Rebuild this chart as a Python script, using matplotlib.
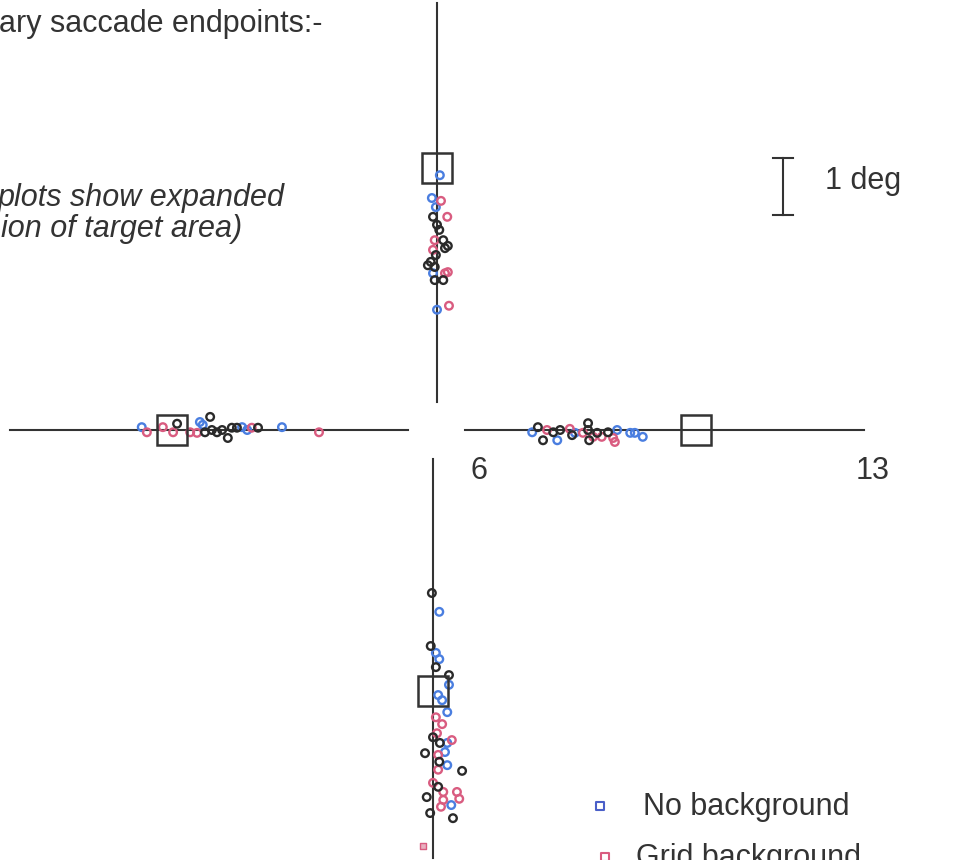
import matplotlib
matplotlib.use('Agg')
import matplotlib.pyplot as plt
from matplotlib.patches import Rectangle

# page layout: pixels per degree, centre of the cross (pixels)
W, H = 979, 860
PX_PER_DEG = 57.0
CX, CY = 437, 430
ARM_START = 5.5      # eccentricity that sits at the centre of the cross
BOTTOM_SHIFT = -0.07  # lower arm is drawn a little left of the upper one

COLOURS = {'none': '#4a7ee0', 'grid': '#d95c80', 'other': '#2a2a2a'}

# endpoints: eccentricity along the arm (deg) and offset across it (deg)
top_ecc = [9.97, 9.57, 9.52, 9.41, 9.24, 9.24, 9.10, 9.01, 8.83, 8.83, 8.73, 8.69,
           8.66, 8.57, 8.45, 8.39, 8.36, 8.25, 8.25, 8.13, 8.13, 8.27, 7.61, 7.68]
top_off = [0.05, -0.09, 0.07, -0.02, -0.07, 0.18, 0.00, 0.04, -0.04, 0.11, 0.19, 0.14,
           -0.07, -0.02, -0.11, -0.16, -0.04, -0.07, 0.14, -0.04, 0.11, 0.19, 0.00, 0.21]
top_cond = ['none', 'none', 'grid', 'none', 'other', 'grid', 'other', 'other', 'grid',
            'other', 'other', 'other', 'grid', 'other', 'other', 'other', 'other', 'none',
            'grid', 'other', 'other', 'grid', 'none', 'grid']

left_ecc = [10.68, 10.59, 10.31, 10.13, 10.06, 9.83, 9.66, 9.61, 9.48, 9.57, 9.45, 9.36,
            9.27, 9.71, 9.17, 9.10, 9.01, 8.92, 8.83, 8.75, 8.64, 8.22, 7.57]
left_off = [0.05, -0.04, 0.05, -0.04, 0.11, -0.04, 0.14, 0.09, 0.23, -0.04, 0.00, -0.04,
            0.00, -0.05, -0.14, 0.04, 0.04, 0.05, 0.00, 0.04, 0.04, 0.05, -0.04]
left_cond = ['none', 'grid', 'grid', 'grid', 'other', 'grid', 'none', 'none', 'other',
             'other', 'other', 'other', 'other', 'grid', 'other', 'other', 'other', 'none',
             'none', 'grid', 'other', 'none', 'grid']

right_ecc = [7.17, 7.27, 7.43, 7.36, 7.54, 7.61, 7.66, 7.83, 7.87, 7.92, 8.06, 8.15,
             8.15, 8.17, 8.24, 8.31, 8.39, 8.50, 8.66, 8.59, 8.62, 8.89, 8.97, 9.11]
right_off = [-0.04, 0.05, 0.00, -0.18, -0.04, -0.18, 0.00, 0.02, -0.09, -0.05, -0.05, 0.12,
             0.00, -0.18, -0.12, -0.05, -0.12, -0.04, 0.00, -0.14, -0.21, -0.05, -0.05, -0.12]
right_cond = ['none', 'other', 'grid', 'other', 'other', 'none', 'other', 'grid', 'other',
              'none', 'grid', 'other', 'other', 'other', 'grid', 'other', 'grid', 'other',
              'none', 'grid', 'grid', 'none', 'none', 'none']

bottom_ecc = [8.36, 8.69, 9.29, 9.41, 9.52, 9.66, 9.80, 9.97, 10.15, 10.24, 10.45, 10.54,
              10.66, 10.82, 10.89, 10.99, 10.94, 10.99, 11.17, 11.15, 11.20, 11.32, 11.38,
              11.46, 11.48, 11.69, 11.76, 11.85, 11.85, 11.97, 11.94, 11.99, 12.11, 12.08,
              12.22, 12.31]
bottom_off = [-0.02, 0.11, -0.04, 0.05, 0.11, 0.05, 0.28, 0.28, 0.09, 0.16, 0.25, 0.05,
              0.16, 0.07, 0.00, 0.12, 0.33, 0.25, -0.14, 0.21, 0.09, 0.11, 0.25, 0.09,
              0.51, 0.00, 0.09, 0.18, 0.42, 0.46, -0.11, 0.18, 0.14, 0.32, -0.05, 0.35]
bottom_cond = ['other', 'none', 'other', 'none', 'none', 'other', 'other', 'none', 'none',
               'none', 'none', 'grid', 'grid', 'grid', 'other', 'other', 'grid', 'none',
               'other', 'none', 'grid', 'other', 'none', 'grid', 'other', 'grid', 'other',
               'grid', 'grid', 'grid', 'other', 'grid', 'grid', 'none', 'other', 'other']

# target eccentricity per arm (as it sits on the page)
target_ecc = {'top': 10.10, 'left': 10.15, 'right': 10.04, 'bottom': 10.08}
arm_range = (6, 13)


def arm_xy(arm, ecc, off):
    d = ecc - ARM_START
    if arm == 'right':
        return d, off
    if arm == 'left':
        return -d, off
    if arm == 'top':
        return off, d
    return off + BOTTOM_SHIFT, -d


def px(x, y):
    return (x - CX) / PX_PER_DEG, (CY - y) / PX_PER_DEG


plt.rcParams['font.family'] = ['Liberation Sans', 'DejaVu Sans']
fig = plt.figure(figsize=(W / 100, H / 100), dpi=100)
ax = fig.add_axes([0, 0, 1, 1])
ax.set_xlim(-CX / PX_PER_DEG, (W - CX) / PX_PER_DEG)
ax.set_ylim(-(H - CY) / PX_PER_DEG, CY / PX_PER_DEG)
ax.axis('off')

line_col = '#333333'
txt_col = '#333333'
FS = 22
arms = {'top': (top_ecc, top_off, top_cond),
        'left': (left_ecc, left_off, left_cond),
        'right': (right_ecc, right_off, right_cond),
        'bottom': (bottom_ecc, bottom_off, bottom_cond)}

box = 0.53
for arm, (ecc, off, cond) in arms.items():
    x0, y0 = arm_xy(arm, arm_range[0], 0)
    x1, y1 = arm_xy(arm, arm_range[1], 0)
    ax.plot([x0, x1], [y0, y1], color=line_col, lw=1.5, zorder=1)
    tx, ty = arm_xy(arm, target_ecc[arm], 0)
    ax.add_patch(Rectangle((tx - box / 2, ty - box / 2), box, box, fill=False,
                           ec=line_col, lw=1.8, zorder=4))
    for c in ['none', 'grid', 'other']:
        pts = [arm_xy(arm, e, o) for e, o, k in zip(ecc, off, cond) if k == c]
        if pts:
            ax.scatter([p[0] for p in pts], [p[1] for p in pts], s=30, facecolors='none',
                       edgecolors=COLOURS[c], linewidths=1.7, zorder=3)

# stray marker near the lower arm
sx, sy = px(423, 846)
ax.scatter([sx], [sy], marker='s', s=14, facecolors='#e8b0c0', edgecolors=COLOURS['grid'],
           linewidths=1, zorder=3)

# scale bar, 1 deg
bx, by = px(783, 215)
ax.plot([bx, bx], [by, by + 1.0], color=line_col, lw=1.5)
for yy in (by, by + 1.0):
    ax.plot([bx - 0.18, bx + 0.18], [yy, yy], color=line_col, lw=1.5)
ax.text(*px(825, 181), '1 deg', fontsize=FS, color=txt_col, va='center', ha='left')

# arm end labels
ax.text(*px(479, 471), '6', fontsize=FS, color=txt_col, ha='center', va='center')
ax.text(*px(873, 471), '13', fontsize=FS, color=txt_col, ha='center', va='center')

# page text (left part lies off the page)
ax.text(*px(-1, 32), 'ary saccade endpoints:-', fontsize=FS, color=txt_col,
        ha='left', va='baseline')
ax.text(*px(-2, 206), 'plots show expanded', fontsize=FS, style='italic',
        color=txt_col, ha='left', va='baseline')
ax.text(*px(1, 237), 'ion of target area)', fontsize=FS, style='italic',
        color=txt_col, ha='left', va='baseline')

# legend
ax.scatter(*px(600, 806), marker='s', s=30, facecolors='none', edgecolors='#4a5fc8',
           linewidths=1.5)
ax.text(*px(643, 815), 'No background', fontsize=FS, color=txt_col, ha='left',
        va='baseline')
ax.scatter(*px(605, 857), marker='s', s=30, facecolors='none', edgecolors=COLOURS['grid'],
           linewidths=1.5)
ax.text(*px(636, 866), 'Grid background', fontsize=FS, color=txt_col, ha='left',
        va='baseline')

fig.savefig('out.png', dpi=100)
